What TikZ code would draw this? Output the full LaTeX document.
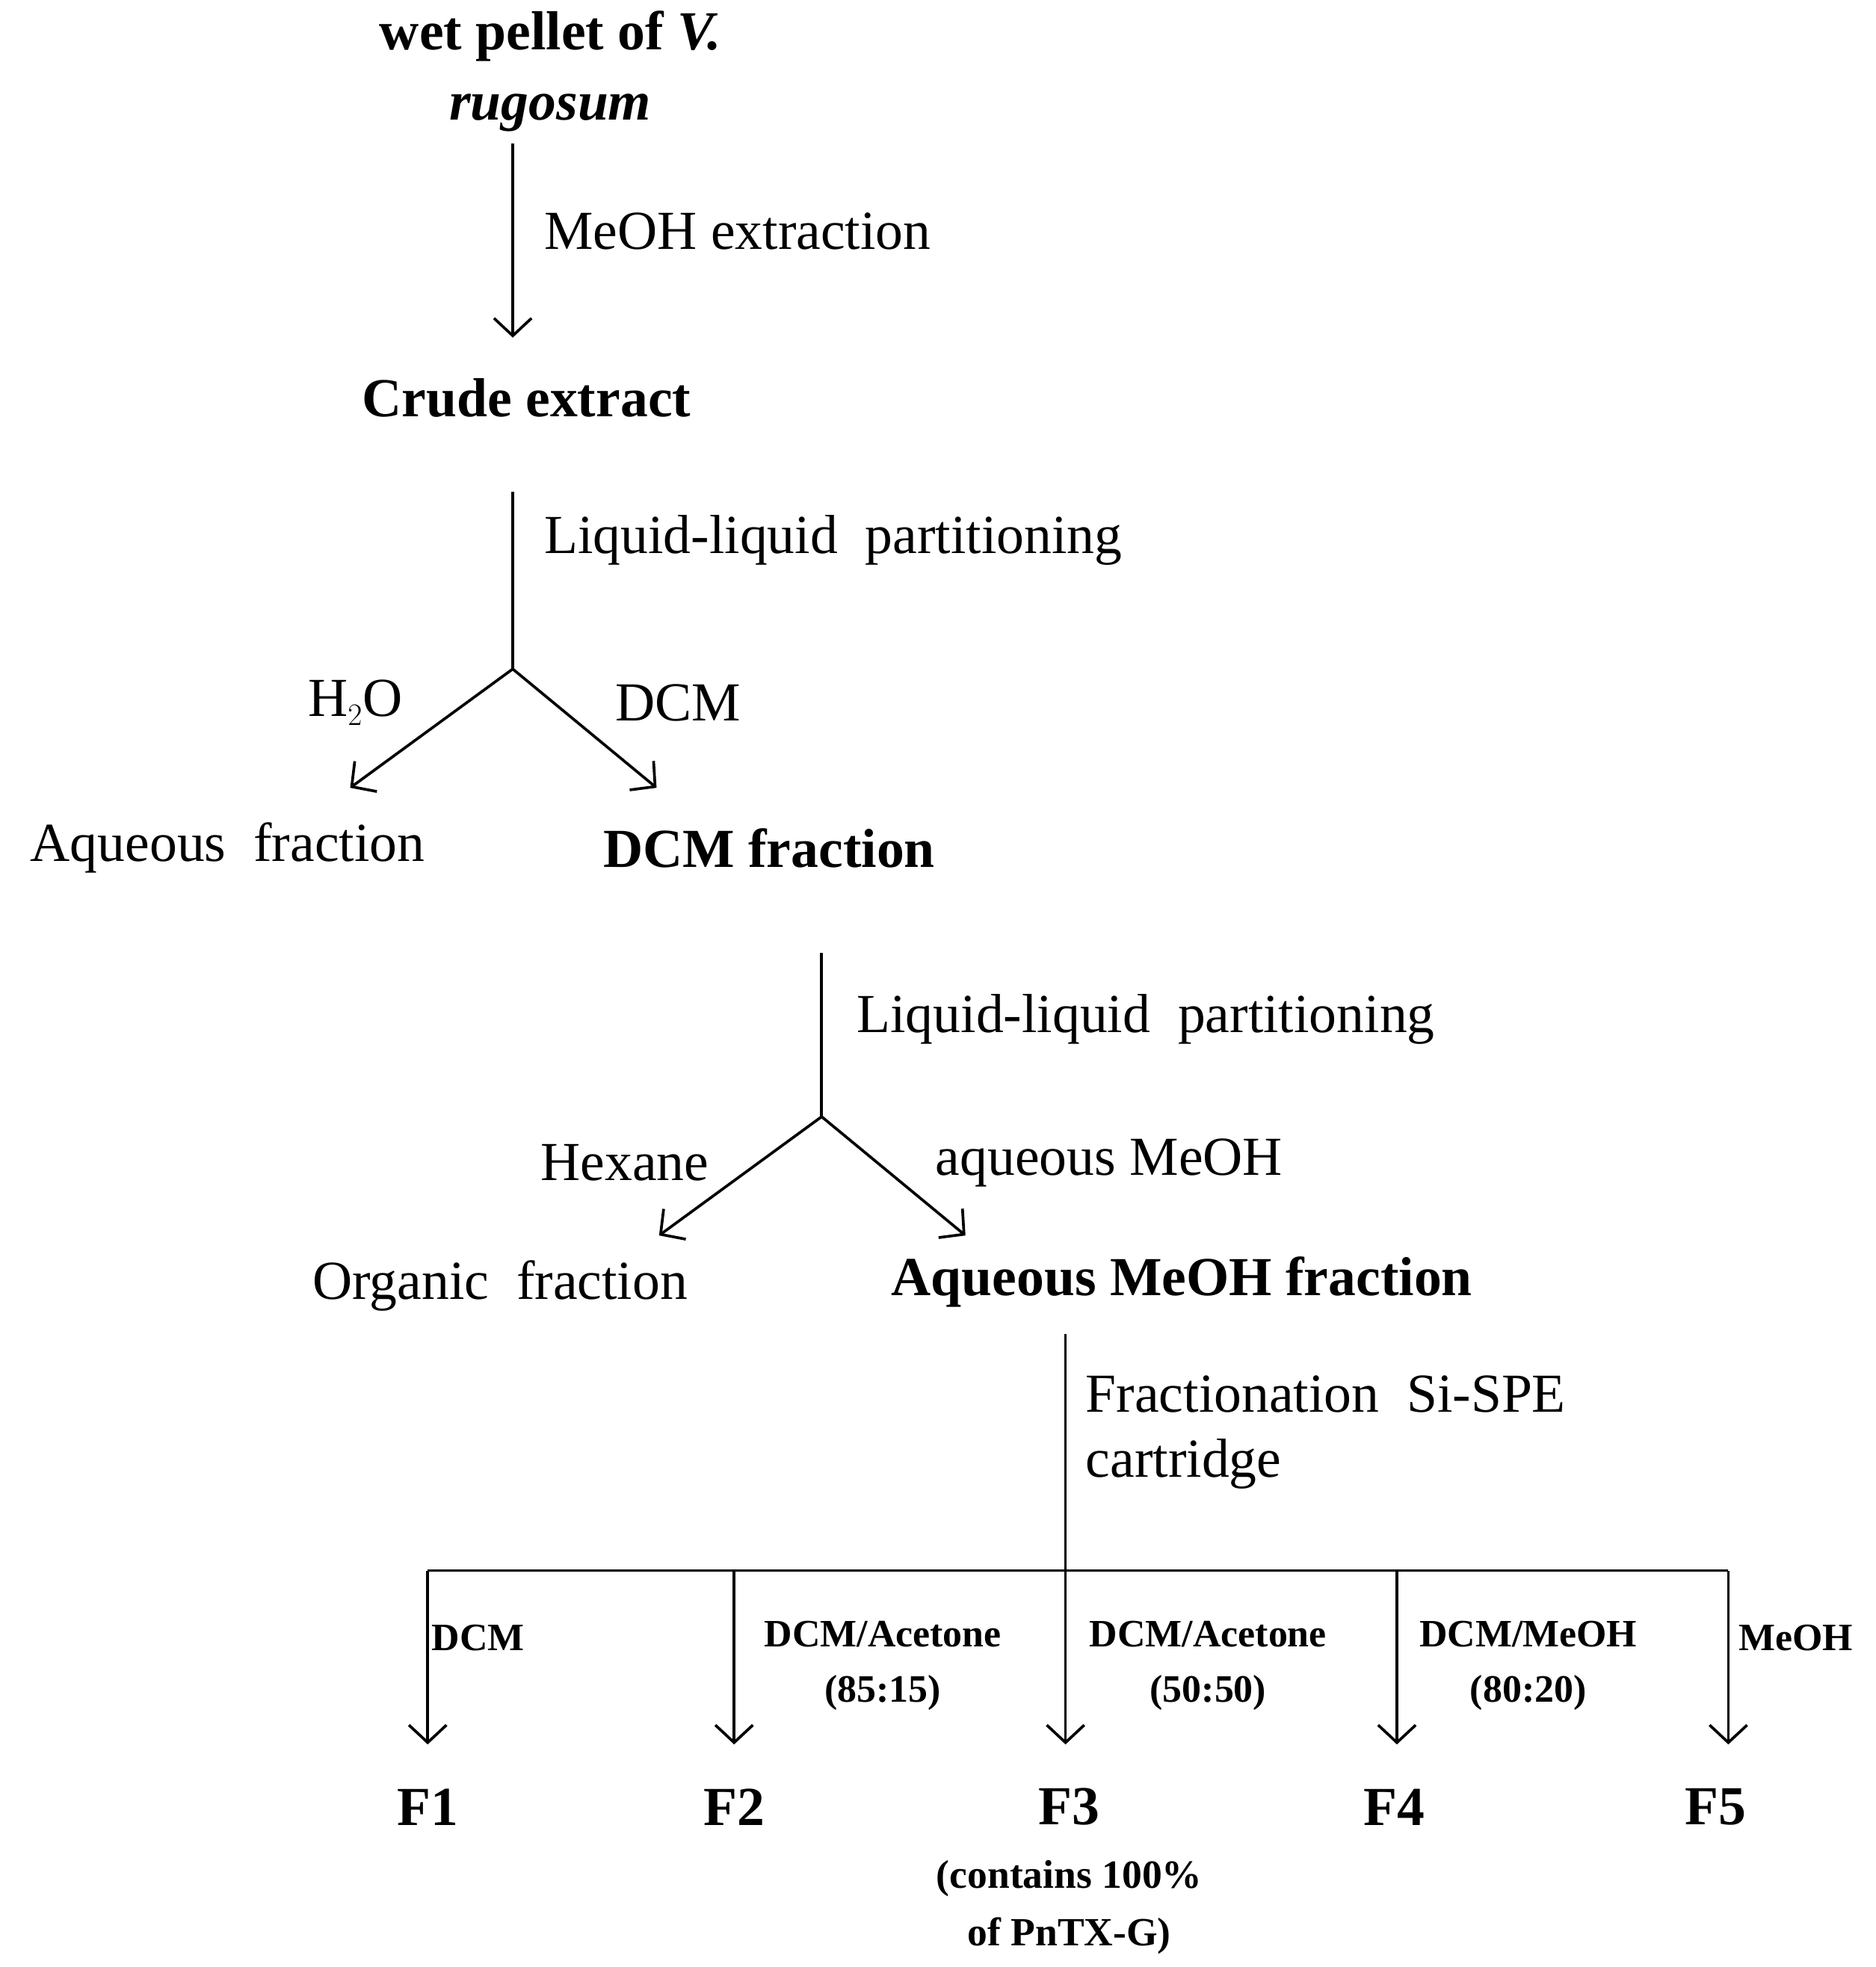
\documentclass[tikz,border=0pt]{standalone}
\usepackage{fontspec}
\setmainfont{Liberation Serif}
\usetikzlibrary{arrows.meta}
\begin{document}
\begin{tikzpicture}[x=1pt,y=-1pt,
  ln/.style={line width=2.2pt},
  ar/.style={ln,-{Straight Barb[length=14pt,width=30pt,line width=2.2pt]}},
  big/.style={font=\fontsize{44}{48}\selectfont, inner sep=0pt},
  bigb/.style={font=\fontsize{44}{48}\selectfont\bfseries, inner sep=0pt},
  sm/.style={font=\fontsize{31}{44}\selectfont\bfseries, inner sep=0pt, align=center},
  lab/.style={big, anchor=west}]
\useasboundingbox (0,0) rectangle (1500,1573);
\node[bigb, align=center] (wet) at (440,57) {wet pellet of \textit{V.}\\[8pt]\textit{rugosum}};
\coordinate (a1) at (410,115); \coordinate (a2) at (410,270);
\draw[ar] (a1) -- (a2);
\node[lab] (l1) at (435,185) {MeOH extraction};
\node[bigb] (crude) at (421,318) {Crude extract};
\coordinate (b1) at (410,393); \coordinate (b2) at (410,535);
\coordinate (b3) at (280,630); \coordinate (b4) at (525,630);
\draw[ln] (b1) -- (b2);
\draw[ar] (b2) -- (b3); \draw[ar] (b2) -- (b4);
\node[lab] (l2) at (435,432) {Liquid-liquid\ \ partitioning};
\node[big, anchor=east] (h2o) at (322,562) {H$_2$O};
\node[lab] (dcm) at (492,562) {DCM};
\node[big] (aq) at (182,678) {Aqueous\ \ fraction};
\node[bigb] (dcmf) at (615,678) {DCM fraction};
\coordinate (c1) at (657,762); \coordinate (c2) at (657,893);
\coordinate (c3) at (527,988); \coordinate (c4) at (772,988);
\draw[ln] (c1) -- (c2);
\draw[ar] (c2) -- (c3); \draw[ar] (c2) -- (c4);
\node[lab] (l3) at (685,815) {Liquid-liquid\ \ partitioning};
\node[big, anchor=east] (hex) at (567,930) {Hexane};
\node[lab] (aqm) at (748,930) {aqueous MeOH};
\node[big] (org) at (400,1028) {Organic\ \ fraction};
\node[bigb] (aqmf) at (945,1025) {Aqueous MeOH fraction};
\coordinate (d1) at (852,1067); \coordinate (d2) at (852,1256);
\draw[ln] (d1) -- (d2);
\node[big, anchor=north west, align=left] (l4) at (868,1100) {Fractionation\ \ Si-SPE\\[4pt]cartridge};
\coordinate (hl) at (342,1256); \coordinate (hr) at (1382,1256);
\draw[ln] (hl) -- (hr);
\foreach \x/\n in {342/1,587/2,852/3,1117/4,1382/5}{
  \coordinate (t\n) at (\x,1256); \coordinate (e\n) at (\x,1395);
  \draw[ar] (t\n) -- (e\n);}
\node[sm, anchor=west] (s1) at (345,1310) {DCM};
\node[sm] (s2) at (706,1332) {DCM/Acetone\\(85:15)};
\node[sm] (s3) at (966,1332) {DCM/Acetone\\(50:50)};
\node[sm] (s4) at (1222,1332) {DCM/MeOH\\(80:20)};
\node[sm, anchor=west] (s5) at (1390,1310) {MeOH};
\foreach \x/\n in {342/1,587/2,855/3,1115/4,1372/5}{
  \node[bigb] (F\n) at (\x,1445) {F\n};}
\node[sm, font=\fontsize{32}{46}\selectfont\bfseries] (note) at (855,1525) {(contains 100\%\\of PnTX-G)};
\end{tikzpicture}
\end{document}
